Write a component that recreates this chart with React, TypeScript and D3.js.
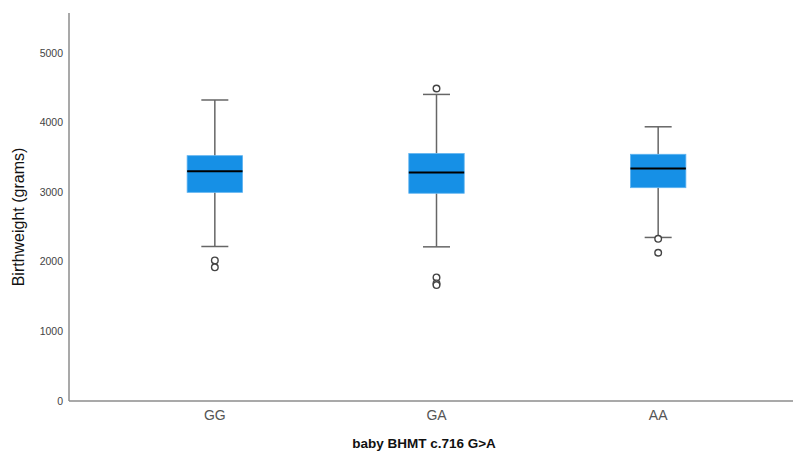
import React, { useRef, useEffect } from 'react';
import * as d3 from 'd3';

// genotype groups
const categories = ['GG', 'GA', 'AA'];
// five-number summaries (grams)
const whiskerLow = [2220, 2215, 2350];
const q1 = [2998, 2985, 3065];
const median = [3300, 3285, 3340];
const q3 = [3525, 3555, 3545];
const whiskerHigh = [4325, 4405, 3940];
const outliers = [[2020, 1920], [4490, 1775, 1690, 1665], [2330, 2130]];
const yTicks = [0, 1000, 2000, 3000, 4000, 5000];

const W = 794;
const H = 454;

function BoxPlot() {
  const ref = useRef<SVGSVGElement>(null);

  useEffect(() => {
    const svg = d3.select(ref.current);
    svg.selectAll('*').remove();

    const left = 69, right = 793, top = 13, bottom = 401;
    const font = '"Liberation Sans", Arial, sans-serif';

    const y = d3.scaleLinear().domain([0, 5575]).range([bottom, top]);
    const x = d3.scaleBand().domain(categories).range([104, 769])
      .paddingInner(0.75).paddingOuter(0.375);

    const data = categories.map((c, i) => ({
      c, lo: whiskerLow[i], q1: q1[i], med: median[i], q3: q3[i], hi: whiskerHigh[i], out: outliers[i],
    }));

    // axes lines
    svg.append('line').attr('x1', left).attr('x2', left).attr('y1', top).attr('y2', bottom)
      .attr('stroke', '#8c8c8c').attr('stroke-width', 1.5);
    svg.append('line').attr('x1', left).attr('x2', right).attr('y1', bottom).attr('y2', bottom)
      .attr('stroke', '#8c8c8c').attr('stroke-width', 1.5);

    svg.append('g').selectAll('text').data(yTicks).join('text')
      .attr('x', 63).attr('y', d => y(d)).attr('dy', '0.35em')
      .attr('text-anchor', 'end').attr('font-family', font).attr('font-size', 10.5)
      .attr('fill', '#444').text(d => d);

    svg.append('g').selectAll('text').data(categories).join('text')
      .attr('x', d => x(d)! + x.bandwidth() / 2).attr('y', 420)
      .attr('text-anchor', 'middle').attr('font-family', font).attr('font-size', 14)
      .attr('fill', '#555').text(d => d);

    svg.append('text').attr('transform', `translate(24,${217}) rotate(-90)`)
      .attr('text-anchor', 'middle').attr('font-family', font).attr('font-size', 16)
      .attr('fill', '#111').text('Birthweight (grams)');

    svg.append('text').attr('x', 424).attr('y', 448)
      .attr('text-anchor', 'middle').attr('font-family', font).attr('font-size', 13.5)
      .attr('font-weight', 'bold').attr('fill', '#111').text('baby BHMT c.716 G>A');

    const g = svg.append('g').selectAll('g').data(data).join('g')
      .attr('transform', d => `translate(${x(d.c)! + x.bandwidth() / 2},0)`);
    const bw = x.bandwidth();
    const cap = 27;

    g.append('line').attr('y1', d => y(d.hi)).attr('y2', d => y(d.q3))
      .attr('stroke', '#666').attr('stroke-width', 1.5);
    g.append('line').attr('y1', d => y(d.q1)).attr('y2', d => y(d.lo))
      .attr('stroke', '#666').attr('stroke-width', 1.5);
    g.append('line').attr('x1', -cap / 2).attr('x2', cap / 2).attr('y1', d => y(d.hi)).attr('y2', d => y(d.hi))
      .attr('stroke', '#666').attr('stroke-width', 1.5);
    g.append('line').attr('x1', -cap / 2).attr('x2', cap / 2).attr('y1', d => y(d.lo)).attr('y2', d => y(d.lo))
      .attr('stroke', '#666').attr('stroke-width', 1.5);

    g.append('rect').attr('x', -bw / 2).attr('width', bw)
      .attr('y', d => y(d.q3)).attr('height', d => y(d.q1) - y(d.q3))
      .attr('fill', '#1690e6').attr('stroke', '#5fb3f0').attr('stroke-width', 0.8);
    g.append('line').attr('x1', -bw / 2).attr('x2', bw / 2)
      .attr('y1', d => y(d.med)).attr('y2', d => y(d.med))
      .attr('stroke', '#000').attr('stroke-width', 2);

    g.selectAll('circle').data(d => d.out).join('circle')
      .attr('cx', 0).attr('cy', v => y(v)).attr('r', 3.3)
      .attr('fill', 'white').attr('stroke', '#444').attr('stroke-width', 1.4);
  }, []);

  return <svg ref={ref} width={W} height={H} style={{ display: 'block' }} />;
}

export default function App() {
  return (
    <div style={{ position: 'absolute', left: 0, top: 0, background: 'white' }}>
      <BoxPlot />
    </div>
  );
}
